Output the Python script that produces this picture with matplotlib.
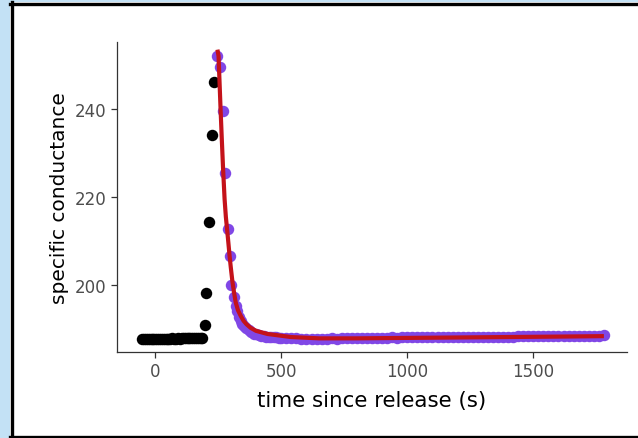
import matplotlib

matplotlib.use("Agg")
import matplotlib.pyplot as plt
from matplotlib.patches import Rectangle
from matplotlib.lines import Line2D

# pre-release / rising limb (black)
pre_t = [-52, -45, -38, -30, -22, -15, -8, 0, 8, 15, 22, 30, 38, 45, 52, 60,
         68, 75, 82, 90, 98, 105, 112, 120, 128, 135, 142, 150, 158, 165, 172,
         180, 185, 196, 203, 212, 226, 232]
pre_c = [187.7, 187.7, 187.8, 187.7, 187.7, 187.8, 187.8, 187.7, 187.8, 187.8,
         187.8, 187.7, 187.8, 187.8, 187.8, 187.8, 187.9, 187.8, 187.8, 187.9,
         187.8, 187.9, 187.9, 187.9, 187.9, 187.9, 188.0, 187.9, 188.0, 188.0,
         188.0, 188.0, 188.0, 190.9, 198.1, 214.3, 234.1, 246.2]

# falling limb used for the fit (purple)
fit_t = [246, 256, 268, 276, 290, 296, 301, 312, 319, 326, 332, 340, 346, 352,
         360, 370, 380, 390, 400, 410, 420, 430, 440, 450, 460, 470, 480, 490,
         500, 520, 540, 560, 580, 600, 620, 640, 660, 680, 700, 720, 740, 760,
         780, 800, 820, 840, 860, 880, 900, 920, 940, 960, 980, 1000, 1020, 1040,
         1060, 1080, 1100, 1120, 1140, 1160, 1180, 1200, 1220, 1240, 1260, 1280,
         1300, 1320, 1340, 1360, 1380, 1400, 1420, 1440, 1460, 1480, 1500, 1520,
         1540, 1560, 1580, 1600, 1620, 1640, 1660, 1680, 1700, 1720, 1740, 1760,
         1780]
fit_c = [252.1, 249.5, 239.6, 225.5, 212.7, 206.7, 200.0, 197.2, 195.3, 194.0,
         192.7, 191.8, 191.2, 190.8, 190.2, 189.7, 189.3, 189.0, 188.8, 188.6,
         188.5, 188.4, 188.3, 188.2, 188.2, 188.1, 188.1, 188.0,
         188.0, 187.9, 187.9, 187.9, 187.8, 187.8, 187.8, 187.8,
         187.8, 187.8, 187.9, 187.8, 187.9, 187.9, 187.9, 187.9,
         188.0, 187.9, 188.0, 188.0, 188.0, 188.0, 188.1, 188.0,
         188.1, 188.1, 188.1, 188.1, 188.1, 188.1, 188.2, 188.1,
         188.2, 188.2, 188.2, 188.2, 188.2, 188.2, 188.3, 188.2,
         188.3, 188.3, 188.3, 188.3, 188.3, 188.3, 188.3, 188.4,
         188.4, 188.4, 188.4, 188.4, 188.4, 188.4, 188.4, 188.5,
         188.4, 188.5, 188.5, 188.5, 188.5, 188.5, 188.5, 188.5,
         188.6]

# fitted curve (red)
curve_t = [248, 251, 255, 259, 264, 269, 275, 280, 286, 290, 295, 300, 306,
           312, 319, 328, 339, 350, 362, 378, 400, 445, 538, 650, 800, 1000,
           1200, 1400, 1600, 1772]
curve_c = [253.0, 252.0, 246.0, 240.0, 233.0, 226.4, 219.5, 215.5, 212.0, 209.6,
           206.5, 203.8, 200.8, 198.5, 196.1, 194.3, 193.0, 191.9, 191.1, 190.3,
           189.6, 188.9, 188.2, 187.9, 187.9, 188.0, 188.1, 188.2, 188.3, 188.4]

xticks = [0, 500, 1000, 1500]
yticks = [200, 220, 240]

fig = plt.figure(figsize=(6.38, 4.39), dpi=100)
fig.patch.set_facecolor("white")

# slide frame: blue strip left/top and a black border
fig.add_artist(Rectangle((0, 0), 10 / 638, 1, transform=fig.transFigure,
                         facecolor="#c3e1f5", edgecolor="none", zorder=0))
fig.add_artist(Rectangle((0, 1 - 3 / 439), 1, 3 / 439, transform=fig.transFigure,
                         facecolor="#c3e1f5", edgecolor="none", zorder=0))
for xs, ys in [((11.5 / 638, 11.5 / 638), (0, 1 - 3 / 439)),
               ((10 / 638, 1), (1 - 4.5 / 439, 1 - 4.5 / 439)),
               ((10 / 638, 1), (1.5 / 439, 1.5 / 439))]:
    fig.add_artist(Line2D(xs, ys, transform=fig.transFigure, color="black", lw=2.4))

ax = fig.add_axes([117 / 638, 1 - 353 / 439, 510 / 638, 310 / 439])

ax.scatter(pre_t, pre_c, s=68, color="black", zorder=2, linewidths=0)
ax.scatter(fit_t, fit_c, s=68, color="#8047e6", zorder=2, linewidths=0)
ax.plot(curve_t, curve_c, color="#c4121a", lw=3, zorder=3)

ax.set_xlim(-152, 1872)
ax.set_ylim(184.8, 255.2)
ax.set_xticks(xticks)
ax.set_yticks(yticks)

for side in ["top", "right"]:
    ax.spines[side].set_visible(False)
for side in ["left", "bottom"]:
    ax.spines[side].set_color("#333333")
    ax.spines[side].set_linewidth(0.9)
ax.tick_params(colors="#333333", labelcolor="#4d4d4d", labelsize=12, length=4, width=0.9)

ax.set_xlabel("time since release (s)", fontsize=15.4, labelpad=7)
ax.set_ylabel("specific conductance", fontsize=14.5, labelpad=4)

fig.savefig("out.png", dpi=100)
